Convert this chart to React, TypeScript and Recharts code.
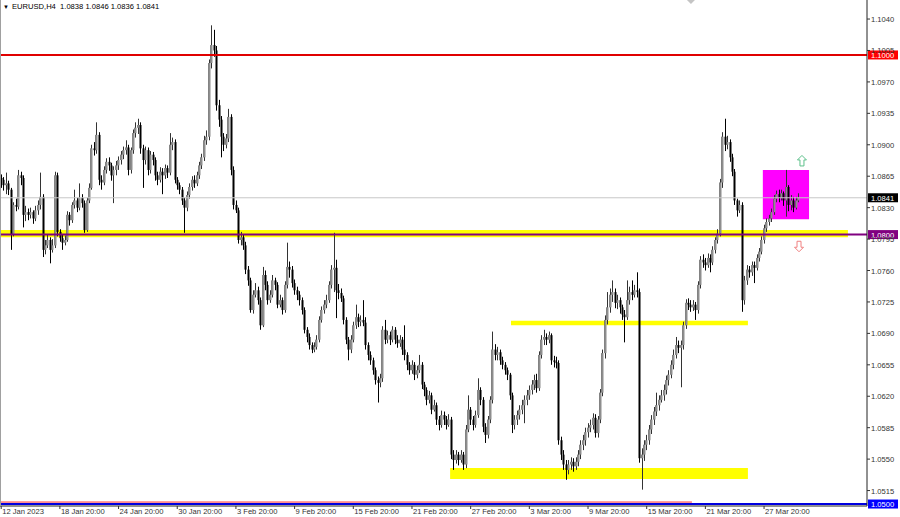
import React from 'react';
import { ComposedChart, Bar, XAxis, YAxis, ReferenceLine, ReferenceArea, ReferenceDot } from 'recharts';

// header of the MT4 window
const symbolName = 'EURUSD,H4';
const lastOhlc = ['1.0838', '1.0846', '1.0836', '1.0841'];

// H4 candles, open = previous close
const firstOpen = 1.0863;
const closes = [
  1.0861, 1.0855, 1.0857, 1.0850, 1.0800, 1.0833, 1.0831, 1.0866, 1.0863, 1.0822, 1.0825, 1.0822, 1.0825, 1.0818, 1.0827, 1.0833, 1.0842, 1.0783, 1.0788, 1.0794, 1.0783, 1.0788, 1.0866, 1.0803,
  1.0796, 1.0791, 1.0794, 1.0822, 1.0816, 1.0833, 1.0838, 1.0830, 1.0841, 1.0835, 1.0805, 1.0838, 1.0852, 1.0896, 1.0894, 1.0911, 1.0861, 1.0858, 1.0872, 1.0881, 1.0877, 1.0866, 1.0872, 1.0877,
  1.0883, 1.0889, 1.0894, 1.0897, 1.0872, 1.0894, 1.0913, 1.0919, 1.0922, 1.0896, 1.0883, 1.0894, 1.0872, 1.0889, 1.0883, 1.0866, 1.0861, 1.0870, 1.0866, 1.0874, 1.0869, 1.0900, 1.0903, 1.0861,
  1.0855, 1.0850, 1.0838, 1.0830, 1.0844, 1.0853, 1.0861, 1.0857, 1.0866, 1.0877, 1.0886, 1.0905, 1.0909, 1.0991, 1.1011, 1.1005, 1.0944, 1.0928, 1.0909, 1.0900, 1.0907, 1.0931, 1.0872, 1.0833,
  1.0827, 1.0794, 1.0797, 1.0788, 1.0761, 1.0749, 1.0716, 1.0733, 1.0738, 1.0727, 1.0699, 1.0755, 1.0744, 1.0727, 1.0733, 1.0749, 1.0744, 1.0722, 1.0727, 1.0716, 1.0744, 1.0764, 1.0761, 1.0746,
  1.0738, 1.0733, 1.0727, 1.0716, 1.0694, 1.0686, 1.0677, 1.0672, 1.0675, 1.0683, 1.0705, 1.0716, 1.0722, 1.0727, 1.0744, 1.0761, 1.0763, 1.0738, 1.0735, 1.0729, 1.0705, 1.0683, 1.0672, 1.0683,
  1.0699, 1.0708, 1.0703, 1.0705, 1.0702, 1.0677, 1.0666, 1.0660, 1.0649, 1.0638, 1.0635, 1.0640, 1.0694, 1.0683, 1.0688, 1.0683, 1.0694, 1.0683, 1.0679, 1.0683, 1.0672, 1.0666, 1.0655, 1.0649,
  1.0655, 1.0644, 1.0649, 1.0655, 1.0633, 1.0627, 1.0616, 1.0621, 1.0605, 1.0610, 1.0594, 1.0588, 1.0599, 1.0594, 1.0588, 1.0594, 1.0555, 1.0549, 1.0555, 1.0549, 1.0555, 1.0544, 1.0583, 1.0605,
  1.0594, 1.0588, 1.0599, 1.0627, 1.0616, 1.0586, 1.0577, 1.0594, 1.0616, 1.0672, 1.0666, 1.0669, 1.0660, 1.0655, 1.0649, 1.0644, 1.0621, 1.0588, 1.0594, 1.0599, 1.0605, 1.0610, 1.0616, 1.0621,
  1.0627, 1.0633, 1.0638, 1.0629, 1.0666, 1.0683, 1.0686, 1.0683, 1.0688, 1.0660, 1.0658, 1.0657, 1.0571, 1.0555, 1.0544, 1.0538, 1.0544, 1.0547, 1.0542, 1.0547, 1.0555, 1.0566, 1.0571, 1.0580,
  1.0585, 1.0588, 1.0596, 1.0579, 1.0594, 1.0624, 1.0668, 1.0705, 1.0719, 1.0733, 1.0736, 1.0724, 1.0727, 1.0719, 1.0711, 1.0708, 1.0727, 1.0736, 1.0733, 1.0738, 1.0736, 1.0551, 1.0555, 1.0566,
  1.0571, 1.0583, 1.0594, 1.0603, 1.0610, 1.0616, 1.0621, 1.0627, 1.0638, 1.0644, 1.0655, 1.0666, 1.0677, 1.0674, 1.0677, 1.0699, 1.0724, 1.0722, 1.0719, 1.0722, 1.0716, 1.0744, 1.0772, 1.0769,
  1.0766, 1.0774, 1.0769, 1.0783, 1.0794, 1.0801, 1.0858, 1.0909, 1.0900, 1.0903, 1.0886, 1.0870, 1.0838, 1.0827, 1.0833, 1.0727, 1.0749, 1.0761, 1.0758, 1.0766, 1.0763, 1.0774, 1.0781, 1.0794,
  1.0807, 1.0814, 1.0818, 1.0825, 1.0840, 1.0845, 1.0841, 1.0846, 1.0838, 1.0853, 1.0833, 1.0838, 1.0830, 1.0838, 1.0841,
];
const highs = [
  1.0867, 1.0864, 1.0869, 1.0860, 1.0852, 1.0836, 1.0840, 1.0872, 1.0870, 1.0866, 1.0832, 1.0829, 1.0830, 1.0827, 1.0832, 1.0838, 1.0869, 1.0845, 1.0794, 1.0800, 1.0797, 1.0795, 1.0870, 1.0869,
  1.0806, 1.0800, 1.0799, 1.0826, 1.0825, 1.0836, 1.0850, 1.0841, 1.0857, 1.0845, 1.0838, 1.0841, 1.0857, 1.0900, 1.0903, 1.0925, 1.0914, 1.0866, 1.0876, 1.0885, 1.0886, 1.0880, 1.0876, 1.0882,
  1.0887, 1.0893, 1.0898, 1.0905, 1.0900, 1.0897, 1.0917, 1.0925, 1.0929, 1.0925, 1.0900, 1.0898, 1.0897, 1.0893, 1.0892, 1.0886, 1.0870, 1.0875, 1.0874, 1.0878, 1.0877, 1.0913, 1.0908, 1.0906,
  1.0864, 1.0858, 1.0853, 1.0841, 1.0848, 1.0857, 1.0865, 1.0866, 1.0870, 1.0881, 1.0890, 1.0910, 1.0916, 1.0995, 1.1033, 1.1028, 1.1010, 1.0950, 1.0932, 1.0913, 1.0912, 1.0940, 1.0934, 1.0876,
  1.0838, 1.0830, 1.0803, 1.0800, 1.0792, 1.0765, 1.0752, 1.0738, 1.0746, 1.0742, 1.0730, 1.0764, 1.0760, 1.0748, 1.0738, 1.0755, 1.0752, 1.0747, 1.0733, 1.0730, 1.0748, 1.0791, 1.0770, 1.0765,
  1.0750, 1.0742, 1.0737, 1.0730, 1.0719, 1.0697, 1.0690, 1.0680, 1.0680, 1.0688, 1.0709, 1.0720, 1.0727, 1.0733, 1.0748, 1.0766, 1.0802, 1.0772, 1.0745, 1.0740, 1.0732, 1.0708, 1.0686, 1.0688,
  1.0703, 1.0722, 1.0712, 1.0710, 1.0727, 1.0708, 1.0680, 1.0670, 1.0663, 1.0652, 1.0642, 1.0645, 1.0698, 1.0705, 1.0693, 1.0692, 1.0698, 1.0697, 1.0688, 1.0688, 1.0686, 1.0699, 1.0669, 1.0658,
  1.0660, 1.0658, 1.0654, 1.0666, 1.0658, 1.0636, 1.0630, 1.0626, 1.0624, 1.0616, 1.0613, 1.0598, 1.0604, 1.0603, 1.0598, 1.0600, 1.0597, 1.0560, 1.0560, 1.0558, 1.0560, 1.0558, 1.0588, 1.0621,
  1.0608, 1.0598, 1.0604, 1.0640, 1.0630, 1.0619, 1.0590, 1.0598, 1.0620, 1.0692, 1.0678, 1.0675, 1.0672, 1.0664, 1.0658, 1.0652, 1.0646, 1.0624, 1.0599, 1.0604, 1.0610, 1.0616, 1.0621, 1.0627,
  1.0632, 1.0638, 1.0644, 1.0645, 1.0670, 1.0688, 1.0694, 1.0690, 1.0692, 1.0690, 1.0665, 1.0664, 1.0660, 1.0575, 1.0560, 1.0549, 1.0549, 1.0552, 1.0551, 1.0552, 1.0560, 1.0571, 1.0577, 1.0585,
  1.0590, 1.0594, 1.0601, 1.0600, 1.0598, 1.0628, 1.0672, 1.0710, 1.0736, 1.0740, 1.0749, 1.0740, 1.0733, 1.0730, 1.0722, 1.0716, 1.0749, 1.0742, 1.0749, 1.0744, 1.0758, 1.0740, 1.0562, 1.0571,
  1.0577, 1.0588, 1.0599, 1.0608, 1.0624, 1.0621, 1.0627, 1.0633, 1.0643, 1.0649, 1.0660, 1.0672, 1.0686, 1.0682, 1.0682, 1.0703, 1.0728, 1.0729, 1.0727, 1.0727, 1.0725, 1.0748, 1.0776, 1.0778,
  1.0774, 1.0779, 1.0778, 1.0787, 1.0797, 1.0806, 1.0862, 1.0914, 1.0929, 1.0910, 1.0906, 1.0890, 1.0873, 1.0840, 1.0838, 1.0836, 1.0754, 1.0766, 1.0765, 1.0770, 1.0770, 1.0778, 1.0785, 1.0798,
  1.0811, 1.0818, 1.0822, 1.0829, 1.0844, 1.0849, 1.0850, 1.0850, 1.0848, 1.0872, 1.0855, 1.0844, 1.0842, 1.0842, 1.0846,
];
const lows = [
  1.0852, 1.0849, 1.0845, 1.0844, 1.0783, 1.0798, 1.0826, 1.0828, 1.0855, 1.0808, 1.0815, 1.0816, 1.0818, 1.0812, 1.0815, 1.0822, 1.0828, 1.0775, 1.0778, 1.0785, 1.0768, 1.0780, 1.0785, 1.0798,
  1.0792, 1.0783, 1.0788, 1.0792, 1.0810, 1.0813, 1.0829, 1.0825, 1.0827, 1.0830, 1.0802, 1.0803, 1.0835, 1.0850, 1.0888, 1.0890, 1.0855, 1.0850, 1.0855, 1.0868, 1.0871, 1.0860, 1.0835, 1.0866,
  1.0872, 1.0878, 1.0884, 1.0889, 1.0866, 1.0868, 1.0890, 1.0908, 1.0912, 1.0890, 1.0852, 1.0878, 1.0866, 1.0868, 1.0877, 1.0860, 1.0855, 1.0858, 1.0845, 1.0862, 1.0863, 1.0866, 1.0894, 1.0857,
  1.0850, 1.0845, 1.0833, 1.0802, 1.0826, 1.0840, 1.0849, 1.0852, 1.0854, 1.0862, 1.0873, 1.0882, 1.0900, 1.0905, 1.0985, 1.0998, 1.0938, 1.0920, 1.0886, 1.0893, 1.0896, 1.0903, 1.0866, 1.0828,
  1.0824, 1.0790, 1.0788, 1.0783, 1.0756, 1.0743, 1.0713, 1.0712, 1.0730, 1.0722, 1.0694, 1.0697, 1.0738, 1.0722, 1.0724, 1.0730, 1.0738, 1.0718, 1.0719, 1.0711, 1.0713, 1.0740, 1.0752, 1.0741,
  1.0733, 1.0727, 1.0721, 1.0711, 1.0690, 1.0680, 1.0672, 1.0668, 1.0669, 1.0672, 1.0680, 1.0702, 1.0712, 1.0718, 1.0724, 1.0740, 1.0736, 1.0707, 1.0728, 1.0725, 1.0700, 1.0678, 1.0660, 1.0668,
  1.0680, 1.0695, 1.0697, 1.0698, 1.0698, 1.0672, 1.0660, 1.0655, 1.0644, 1.0633, 1.0613, 1.0630, 1.0636, 1.0678, 1.0679, 1.0677, 1.0680, 1.0678, 1.0674, 1.0675, 1.0666, 1.0660, 1.0649, 1.0644,
  1.0645, 1.0638, 1.0640, 1.0646, 1.0628, 1.0620, 1.0610, 1.0612, 1.0600, 1.0603, 1.0588, 1.0582, 1.0585, 1.0588, 1.0583, 1.0586, 1.0550, 1.0538, 1.0545, 1.0543, 1.0546, 1.0538, 1.0540, 1.0580,
  1.0588, 1.0582, 1.0585, 1.0596, 1.0610, 1.0580, 1.0568, 1.0573, 1.0590, 1.0612, 1.0660, 1.0660, 1.0655, 1.0650, 1.0644, 1.0638, 1.0616, 1.0579, 1.0583, 1.0588, 1.0594, 1.0600, 1.0590, 1.0610,
  1.0616, 1.0622, 1.0627, 1.0624, 1.0626, 1.0662, 1.0677, 1.0677, 1.0679, 1.0655, 1.0652, 1.0651, 1.0566, 1.0549, 1.0538, 1.0527, 1.0533, 1.0538, 1.0536, 1.0538, 1.0542, 1.0550, 1.0560, 1.0565,
  1.0574, 1.0580, 1.0583, 1.0574, 1.0574, 1.0590, 1.0620, 1.0662, 1.0700, 1.0713, 1.0725, 1.0718, 1.0717, 1.0712, 1.0705, 1.0680, 1.0705, 1.0722, 1.0727, 1.0730, 1.0730, 1.0546, 1.0516, 1.0548,
  1.0560, 1.0566, 1.0578, 1.0588, 1.0598, 1.0604, 1.0613, 1.0615, 1.0622, 1.0632, 1.0640, 1.0650, 1.0662, 1.0668, 1.0630, 1.0672, 1.0695, 1.0716, 1.0714, 1.0715, 1.0705, 1.0712, 1.0740, 1.0763,
  1.0760, 1.0763, 1.0758, 1.0766, 1.0779, 1.0790, 1.0798, 1.0852, 1.0893, 1.0895, 1.0881, 1.0865, 1.0833, 1.0820, 1.0824, 1.0714, 1.0722, 1.0744, 1.0752, 1.0754, 1.0746, 1.0760, 1.0770, 1.0778,
  1.0790, 1.0803, 1.0810, 1.0814, 1.0822, 1.0836, 1.0836, 1.0838, 1.0832, 1.0820, 1.0826, 1.0827, 1.0825, 1.0828, 1.0836,
];

// time axis: labels sit on every 24th bar
const dateLabels = ['12 Jan 2023', '18 Jan 20:00', '24 Jan 20:00', '30 Jan 20:00', '3 Feb 20:00', '9 Feb 20:00', '15 Feb 20:00', '21 Feb 20:00', '27 Feb 20:00', '3 Mar 20:00', '9 Mar 20:00', '15 Mar 20:00', '21 Mar 20:00', '27 Mar 20:00'];
const dateBars = [0, 24, 48, 72, 96, 120, 144, 168, 192, 216, 240, 264, 288, 312];

// price axis
const priceTicks = [1.104, 1.1005, 1.097, 1.0935, 1.09, 1.0865, 1.083, 1.0795, 1.076, 1.0725, 1.069, 1.0655, 1.062, 1.0585, 1.055, 1.0515];

// drawn levels
const resistanceLevel = 1.1;
const pivotLevel = 1.08;
const supportLevel = 1.05;
const bidLevel = 1.0841;
// yellow zones: [fromBar, toBar, low, high]
const pivotZone = [-0.49, 346.3, 1.0797, 1.0805];
const midZone = [208.5, 305.4, 1.0699, 1.0704];
const lowZone = [183.6, 305.4, 1.0528, 1.054];
// magenta consolidation box
const rangeBox = [311.5, 330.4, 1.0817, 1.0872];

const X_DOMAIN = [-0.49, 354.1];
const Y_DOMAIN = [1.04978, 1.10612];
const FONT = '"Liberation Sans", Arial, sans-serif';

const candles = closes.map((c, i) => ({
  i,
  o: i === 0 ? firstOpen : closes[i - 1],
  c,
  h: highs[i],
  l: lows[i],
}));

const Candle = (props: any) => {
  const { x, y, width, height, payload } = props;
  if (x == null || y == null || !payload) return null;
  const top = Math.min(y, y + height);
  const hh = Math.abs(height);
  const range = payload.h - payload.l || 1;
  const py = (p: number) => top + ((payload.h - p) / range) * hh;
  const cx = Math.round(x + width / 2);
  const up = payload.c >= payload.o;
  const b1 = py(Math.max(payload.o, payload.c));
  const b2 = py(Math.min(payload.o, payload.c));
  return (
    <g>
      <line x1={cx + 0.5} x2={cx + 0.5} y1={top} y2={top + hh} stroke={up ? '#333' : '#000'} strokeWidth={1} />
      <rect x={cx - 0.5} y={b1} width={2} height={Math.max(1, b2 - b1)} fill={up ? '#8e8e8e' : '#000'} />
      {up && <line x1={cx - 0.5} x2={cx - 0.5} y1={b1} y2={b1 + Math.max(1, b2 - b1)} stroke="#555" strokeWidth={0.6} />}
    </g>
  );
};

const PriceTick = (props: any) => {
  const { x, y, payload } = props;
  return (
    <g>
      <line x1={x} x2={x + 3} y1={y} y2={y} stroke="#333" />
      <text x={x + 4} y={y + 3} fontSize={7.6} fill="#333" fontFamily={FONT}>
        {Number(payload.value).toFixed(4)}
      </text>
    </g>
  );
};

const DateTick = (props: any) => {
  const { x, y, payload } = props;
  const idx = dateBars.indexOf(payload.value);
  return (
    <g>
      <line x1={x} x2={x} y1={y} y2={y + 3} stroke="#333" />
      <text x={x + 1} y={y + 8} fontSize={7.6} fill="#333" fontFamily={FONT}>
        {dateLabels[idx]}
      </text>
    </g>
  );
};

const priceTag = (value: number, bg: string) => (props: any) => {
  const vb = props.viewBox || {};
  const x0 = vb.x + vb.width + 1;
  const y0 = vb.y;
  return (
    <g>
      <rect x={x0} y={y0 - 4.5} width={30} height={9} fill={bg} />
      <text x={x0 + 3} y={y0 + 3} fontSize={7.6} fill="#fff" fontFamily={FONT}>
        {value.toFixed(4)}
      </text>
    </g>
  );
};

const Arrow = (dir: 'up' | 'down', color: string) => (props: any) => {
  const { cx, cy } = props;
  const s = dir === 'up' ? 1 : -1;
  const p = [
    [0, -5.5], [4.5, -1], [2, -1], [2, 5], [-2, 5], [-2, -1], [-4.5, -1],
  ].map(([a, b]) => `${cx + a},${cy + b * s}`).join(' ');
  return <polygon points={p} fill="#fff" stroke={color} strokeWidth={1} />;
};

const ShiftMark = (props: any) => {
  const { cx, cy } = props;
  return <polygon points={`${cx - 4},${cy} ${cx + 4},${cy} ${cx},${cy + 4}`} fill="#c4c4c4" />;
};

export default function App() {
  return (
    <div style={{ position: 'relative', width: 900, height: 517, background: '#fff' }}>
      <style>{`body{margin:0;background:#fff}`}</style>
      <ComposedChart width={900} height={517} data={candles} margin={{ top: 0, right: 0, bottom: 0, left: 0 }}>
        <XAxis
          dataKey="i"
          type="number"
          domain={X_DOMAIN}
          allowDataOverflow
          ticks={dateBars}
          interval={0}
          height={11}
          tickSize={0}
          tickMargin={0}
          tickLine={false}
          axisLine={{ stroke: '#222' }}
          tick={<DateTick />}
        />
        <YAxis
          orientation="right"
          type="number"
          domain={Y_DOMAIN}
          allowDataOverflow
          ticks={priceTicks}
          interval={0}
          width={33}
          tickSize={0}
          tickMargin={0}
          tickLine={false}
          axisLine={{ stroke: '#222' }}
          tick={<PriceTick />}
        />
        <ReferenceArea x1={pivotZone[0]} x2={pivotZone[1]} y1={pivotZone[2]} y2={pivotZone[3]} fill="#ffff00" fillOpacity={1} stroke="none" ifOverflow="hidden" />
        <ReferenceArea x1={midZone[0]} x2={midZone[1]} y1={midZone[2]} y2={midZone[3]} fill="#ffff00" fillOpacity={1} stroke="none" />
        <ReferenceArea x1={lowZone[0]} x2={lowZone[1]} y1={lowZone[2]} y2={lowZone[3]} fill="#ffff00" fillOpacity={1} stroke="none" />
        <ReferenceArea x1={rangeBox[0]} x2={rangeBox[1]} y1={rangeBox[2]} y2={rangeBox[3]} fill="#ff00ff" fillOpacity={1} stroke="none" />
        <ReferenceLine y={bidLevel} stroke="#c8c8c8" strokeWidth={1} label={priceTag(bidLevel, '#000')} />
        <Bar dataKey={(d: any) => [d.l, d.h]} barSize={2} shape={<Candle />} isAnimationActive={false} />
        <ReferenceLine y={resistanceLevel} stroke="#e00000" strokeWidth={2} label={priceTag(resistanceLevel, '#ff0000')} />
        <ReferenceLine y={pivotLevel} stroke="#800080" strokeWidth={2} label={priceTag(pivotLevel, '#800080')} />
        <ReferenceLine
          segment={[{ x: X_DOMAIN[0], y: 1.05022 }, { x: 282.5, y: 1.05022 }]}
          stroke="#ff3030"
          strokeWidth={1}
        />
        <ReferenceLine y={supportLevel} stroke="#0000e0" strokeWidth={2} label={priceTag(supportLevel, '#0000ff')} />
        <ReferenceDot x={327.5} y={1.0882} r={0} shape={Arrow('up', '#5cc08a')} ifOverflow="visible" />
        <ReferenceDot x={326.3} y={1.0787} r={0} shape={Arrow('down', '#f08080')} ifOverflow="visible" />
        <ReferenceDot x={282.1} y={Y_DOMAIN[1]} r={0} shape={<ShiftMark />} ifOverflow="visible" />
      </ComposedChart>
      <div style={{ position: 'absolute', left: 0, top: 0, width: 1, height: 506, background: '#a0a0a0' }} />
      <div
        style={{
          position: 'absolute',
          left: 3,
          top: 2,
          fontFamily: FONT,
          fontSize: 7.6,
          color: '#000',
          whiteSpace: 'pre',
          lineHeight: '9px',
        }}
      >
        <span style={{ fontSize: 6, marginRight: 3 }}>▼</span>
        {`${symbolName}  ${lastOhlc.join(' ')}`}
      </div>
    </div>
  );
}
